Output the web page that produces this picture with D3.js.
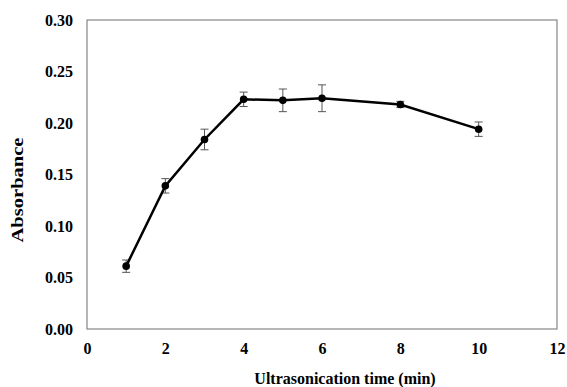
<!DOCTYPE html>
<html><head><meta charset="utf-8">
<script src="https://cdn.jsdelivr.net/npm/d3@7"></script>
<style>body{margin:0;background:#fff}</style>
</head><body>
<svg id="c" width="567" height="387" font-family="Liberation Serif, Times New Roman, serif" font-weight="bold"></svg>
<script>
const times = [1, 2, 3, 4, 5, 6, 8, 10];
const absorbance = [0.061, 0.139, 0.184, 0.223, 0.222, 0.224, 0.218, 0.194];
const errors = [0.006, 0.007, 0.010, 0.007, 0.011, 0.013, 0.003, 0.007];
const xTicks = [0, 2, 4, 6, 8, 10, 12];
const yTicks = [0, 0.05, 0.10, 0.15, 0.20, 0.25, 0.30];

const svg = d3.select("#c");
const L = 87, T = 20, R = 557, B = 329;
const x = d3.scaleLinear().domain([0, 12]).range([L, R]);
const y = d3.scaleLinear().domain([0, 0.30]).range([B, T]);
const FF = "Liberation Serif";

svg.append("rect").attr("x", L).attr("y", T).attr("width", R - L).attr("height", B - T)
  .attr("fill", "none").attr("stroke", "#868686").attr("stroke-width", 1.2);

const xa = svg.append("g").attr("transform", `translate(0,${B})`)
  .call(d3.axisBottom(x).tickValues(xTicks).tickSize(0).tickPadding(13.5).tickFormat(d3.format("d")));
xa.select(".domain").remove();
const ya = svg.append("g").attr("transform", `translate(${L},0)`)
  .call(d3.axisLeft(y).tickValues(yTicks).tickSize(0).tickPadding(14).tickFormat(d3.format(".2f")));
ya.select(".domain").remove();
[xa, ya].forEach(g => g.attr("font-family", FF).attr("font-size", 16).attr("font-weight", "bold"));
svg.selectAll(".tick text").attr("fill", "#000")
  .style("font-family", FF).style("font-weight", "bold").style("font-size", "16px");

// error bars
const eb = svg.append("g").attr("stroke", "#555").attr("stroke-width", 1);
times.forEach((t, i) => {
  const cx = x(t), y1 = y(absorbance[i] - errors[i]), y2 = y(absorbance[i] + errors[i]);
  eb.append("line").attr("x1", cx).attr("x2", cx).attr("y1", y1).attr("y2", y2);
  eb.append("line").attr("x1", cx - 4).attr("x2", cx + 4).attr("y1", y1).attr("y2", y1);
  eb.append("line").attr("x1", cx - 4).attr("x2", cx + 4).attr("y1", y2).attr("y2", y2);
});

const pts = times.map((t, i) => [t, absorbance[i]]);
svg.append("path").datum(pts)
  .attr("d", d3.line().x(d => x(d[0])).y(d => y(d[1])))
  .attr("fill", "none").attr("stroke", "#000").attr("stroke-width", 2.5);
svg.selectAll(".pt").data(pts).enter().append("circle")
  .attr("cx", d => x(d[0])).attr("cy", d => y(d[1])).attr("r", 3.8).attr("fill", "#000");

svg.append("text").attr("x", 345).attr("y", 384).attr("text-anchor", "middle")
  .style("font-family", FF).style("font-weight", "bold").style("font-size", "16px")
  .text("Ultrasonication time (min)");
svg.append("text").attr("transform", `translate(23,190) rotate(-90)`)
  .attr("text-anchor", "middle")
  .attr("textLength", 105).attr("lengthAdjust", "spacingAndGlyphs")
  .style("font-family", FF).style("font-weight", "bold").style("font-size", "17px")
  .text("Absorbance");
</script>
</body></html>
